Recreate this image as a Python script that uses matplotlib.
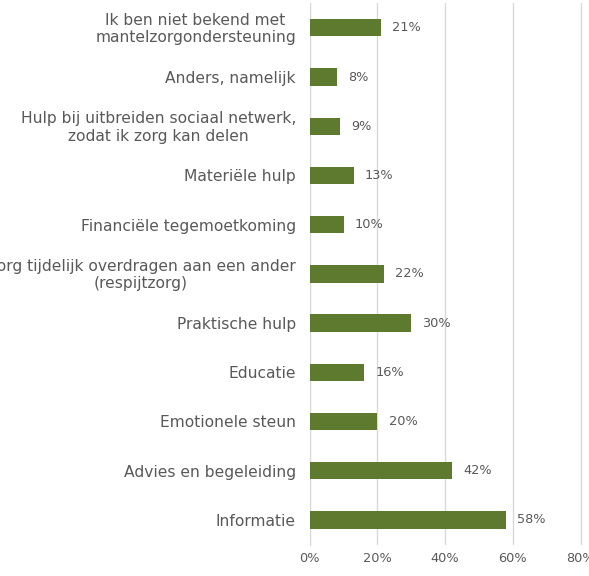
import matplotlib
matplotlib.use("Agg")
import matplotlib.pyplot as plt
from matplotlib.ticker import FuncFormatter

# Categories listed bottom to top
categories = [
    "Informatie",
    "Advies en begeleiding",
    "Emotionele steun",
    "Educatie",
    "Praktische hulp",
    "Zorg tijdelijk overdragen aan een ander\n(respijtzorg)",
    "Financiële tegemoetkoming",
    "Materiële hulp",
    "Hulp bij uitbreiden sociaal netwerk,\nzodat ik zorg kan delen",
    "Anders, namelijk",
    "Ik ben niet bekend met\nmantelzorgondersteuning",
]
values = [58, 42, 20, 16, 30, 22, 10, 13, 9, 8, 21]
xticks = [0, 20, 40, 60, 80]

bar_color = "#5e7a2e"
text_color = "#595959"
grid_color = "#d9d9d9"

fig = plt.figure(figsize=(5.89, 5.76), dpi=100)
ax = fig.add_axes([0.526, 0.0545, 0.474, 0.94])

y = list(range(len(categories)))
ax.barh(y, values, height=0.35, color=bar_color, zorder=3)

for yi, v in zip(y, values):
    ax.annotate(f"{v}%", xy=(v, yi), xytext=(8, 0), textcoords="offset points",
                ha="left", va="center", fontsize=9.3, color=text_color)

# Category labels: right-aligned block, lines centred within it
for yi, cat in zip(y, categories):
    ax.annotate(cat, xy=(0, yi), xycoords=("axes fraction", "data"),
                xytext=(-10, -1), textcoords="offset points",
                ha="right", va="center", multialignment="center",
                fontsize=11.2, color=text_color, annotation_clip=False)

ax.set_xlim(0, 82.5)
ax.set_ylim(-0.5, len(categories) - 0.5)
ax.set_xticks(xticks)
ax.xaxis.set_major_formatter(FuncFormatter(lambda v, p: f"{int(v)}%"))
ax.set_yticks(y)
ax.set_yticklabels([])

ax.tick_params(axis="y", length=0)
ax.tick_params(axis="x", length=0, pad=5, labelsize=9.3, labelcolor=text_color)

ax.grid(axis="x", color=grid_color, linewidth=1, zorder=0)
ax.grid(axis="y", visible=False)
for side in ["top", "right", "bottom"]:
    ax.spines[side].set_visible(False)
ax.spines["left"].set_color(grid_color)

fig.savefig("out.png", dpi=100, facecolor="white")
